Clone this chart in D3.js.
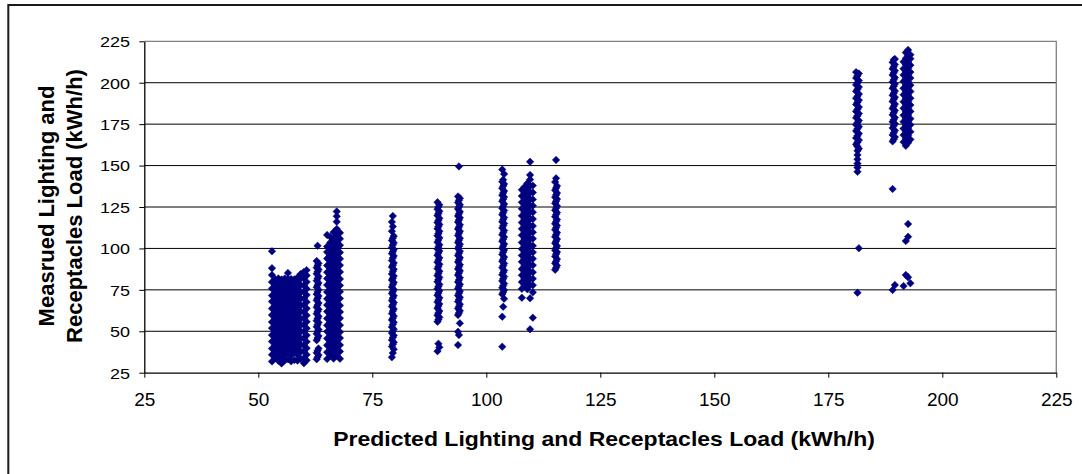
<!DOCTYPE html>
<html>
<head>
<meta charset="utf-8">
<script src="https://cdn.jsdelivr.net/npm/d3@7"></script>
<style>
  html, body { margin: 0; padding: 0; background: #fff; overflow: hidden; }
  svg { display: block; }
</style>
</head>
<body>
<svg id="chart" width="1082" height="474"></svg>
<script>
// Axis ticks and titles
const xTicks = [25, 50, 75, 100, 125, 150, 175, 200, 225];
const yTicks = [25, 50, 75, 100, 125, 150, 175, 200, 225];
const xTitle = "Predicted Lighting and Receptacles Load (kWh/h)";
const yTitleLines = ["Measrued Lighting and", "Receptacles Load (kWh/h)"];

// Hourly readings grouped by predicted load: [predicted, [measured, ...]]
const group53to61 = [
  [53.0, [31.8, 35.9, 39.6, 43.8, 47.7, 51.9, 55.6, 59.8, 63.7, 67.9, 71.6, 75.8, 79.7, 83.9, 88.1, 98.3]],
  [53.7, [33.7, 37.8, 41.6, 45.9, 49.7, 53.8, 57.6, 61.9, 65.7, 69.8, 73.6, 77.9, 81.4]],
  [54.4, [32.2, 35.8, 39.9, 43.7, 47.8, 51.6, 55.9, 59.7, 63.8, 67.6, 71.9, 75.7, 79.8, 81.9]],
  [55.1, [30.6, 33.9, 37.7, 41.8, 45.6, 49.9, 53.7, 57.8, 61.6, 65.9, 69.7, 73.8, 77.6, 81.2]],
  [55.8, [32.4, 35.7, 39.8, 43.6, 47.9, 51.7, 55.8, 59.6, 63.9, 67.7, 71.8, 75.6, 79.9, 81.8]],
  [56.5, [33.1, 37.9, 41.7, 45.8, 49.6, 53.9, 57.7, 61.8, 65.6, 69.9, 73.7, 77.8, 81.6, 85.2]],
  [57.2, [31.9, 35.6, 39.7, 43.9, 47.6, 51.8, 55.7, 59.9, 63.6, 67.8, 71.7, 75.9, 79.6, 81.5]],
  [57.9, [32.6, 37.6, 41.9, 45.7, 49.8, 53.6, 57.9, 61.7, 65.8, 69.6, 73.9, 77.7, 81.3]],
  [58.6, [32.3, 35.8, 39.6, 43.8, 47.7, 51.6, 55.9, 59.8, 63.7, 67.9, 71.6, 75.8, 79.7, 82.4]],
  [59.3, [33.4, 37.7, 41.8, 45.6, 49.9, 53.8, 57.6, 61.9, 65.7, 69.8, 73.6, 77.9, 81.8, 84.6]],
  [60.0, [30.7, 33.8, 37.9, 41.6, 45.8, 49.7, 53.9, 57.8, 61.6, 65.9, 69.7, 73.8, 77.6, 81.9, 85.8]],
  [60.6, [32.5, 35.9, 39.8, 43.7, 47.6, 51.8, 55.7, 59.6, 63.8, 67.7, 71.9, 75.6, 79.8, 83.7, 86.9]]
];

const group63 = [
  [62.8, [33.1, 37.0, 44.6, 48.5, 52.7, 56.4, 60.6, 64.5, 68.7, 72.4, 76.6, 80.5, 84.7, 88.4, 92.4]],
  [63.0, [34.4, 38.3, 45.9, 49.8, 54.0, 57.7, 61.9, 65.8, 70.0, 73.7, 77.9, 81.8, 86.0, 89.7, 101.6]],
  [63.2, [35.7, 39.6, 47.2, 51.1, 55.3, 59.0, 63.2, 67.1, 71.3, 75.0, 79.2, 83.1, 87.3, 91.0]]
];

const group65to68 = [
  [65.1, [33.3, 37.4, 41.6, 45.7, 49.8, 53.6, 57.7, 61.9, 65.8, 69.6, 73.7, 77.9, 81.8, 85.6, 89.7, 93.9, 97.8, 101.2, 108.1]],
  [65.8, [35.4, 39.5, 43.7, 47.8, 51.6, 55.7, 59.8, 63.9, 67.7, 71.8, 75.6, 79.7, 83.9, 87.8, 91.6, 95.7, 99.8, 103.6, 106.9]],
  [66.5, [33.5, 37.6, 41.8, 45.6, 49.7, 53.9, 57.8, 61.6, 65.7, 69.9, 73.8, 77.6, 81.7, 85.9, 89.8, 93.6, 97.7, 101.8, 105.6, 109.8]],
  [67.2, [35.3, 39.7, 43.6, 47.9, 51.8, 55.6, 59.7, 63.8, 67.6, 71.9, 75.7, 79.8, 83.6, 87.7, 91.9, 95.8, 99.6, 103.7, 107.9, 111.8, 116.1, 119.4, 122.3]],
  [67.9, [33.4, 37.8, 41.7, 45.9, 49.6, 53.7, 57.9, 61.7, 65.6, 69.8, 73.9, 77.7, 81.6, 85.8, 89.9, 93.7, 97.6, 101.9, 105.8, 109.4]]
];

const group79 = [
  [79.3, [34.3, 40.8, 44.7, 48.9, 52.6, 56.8, 60.7, 64.9, 68.6, 72.8, 76.7, 80.9, 84.6, 88.8, 92.7, 96.9, 100.6, 104.8, 110.4, 116.0]],
  [79.5, [36.9, 42.1, 46.2, 50.0, 54.1, 57.9, 62.2, 66.0, 70.1, 73.9, 78.2, 82.0, 86.1, 89.9, 94.2, 98.0, 102.1, 106.2, 113.2, 119.6]],
  [79.7, [39.2, 43.4, 47.5, 51.3, 55.4, 59.2, 63.5, 67.3, 71.4, 75.2, 79.5, 83.3, 87.4, 91.2, 95.5, 99.3, 103.4, 107.5]]
];

const group89 = [
  [89.3, [38.0, 55.8, 59.7, 63.9, 67.6, 71.8, 75.7, 79.9, 83.6, 87.8, 91.7, 95.9, 99.6, 103.8, 107.7, 111.9, 115.6, 119.8, 123.7, 127.9]],
  [89.5, [42.5, 57.1, 61.0, 65.2, 68.9, 73.1, 77.0, 81.2, 84.9, 89.1, 93.0, 97.2, 100.9, 105.1, 109.0, 113.2, 116.9, 121.1, 125.0]],
  [89.7, [40.4, 58.4, 62.3, 66.5, 70.2, 74.4, 78.3, 82.5, 86.2, 90.4, 94.3, 98.5, 102.2, 106.4, 110.3, 114.5, 118.2, 122.4, 126.3]]
];

const group94 = [
  [93.8, [41.7, 49.7, 59.8, 63.7, 67.9, 71.6, 75.8, 79.7, 83.9, 87.6, 91.8, 95.7, 99.9, 103.6, 107.8, 111.7, 115.9, 119.6, 123.8, 127.7, 131.4]],
  [94.0, [47.7, 61.1, 65.0, 69.2, 72.9, 77.1, 81.0, 85.2, 88.9, 93.1, 97.0, 101.2, 104.9, 109.1, 113.0, 117.2, 120.9, 125.1, 129.0, 149.5]],
  [94.2, [54.8, 62.4, 66.3, 70.5, 74.2, 78.4, 82.3, 86.5, 90.2, 94.4, 98.3, 102.5, 106.2, 110.4, 114.3, 118.5, 122.2, 126.4, 130.3]]
];

const group104 = [
  [103.5, [40.7, 58.8, 72.3, 76.2, 80.4, 84.1, 88.3, 92.2, 96.4, 100.1, 104.3, 108.2, 112.4, 116.1, 120.3, 124.2, 128.4, 132.1, 136.3, 140.2, 147.6]],
  [103.7, [64.8, 73.6, 77.5, 81.7, 85.4, 89.6, 93.5, 97.7, 101.4, 105.6, 109.5, 113.7, 117.4, 121.6, 125.5, 129.7, 133.4, 137.6, 141.5]],
  [103.9, [69.6, 74.9, 78.8, 83.0, 86.7, 90.9, 94.8, 99.0, 102.7, 106.9, 110.8, 115.0, 118.7, 122.9, 126.8, 131.0, 134.7, 138.9, 144.9]]
];

const group108to110 = [
  [107.8, [70.2, 75.6, 79.7, 83.8, 87.6, 91.9, 95.8, 99.7, 103.6, 107.9, 111.8, 115.6, 119.7, 123.9, 127.8, 131.6, 135.4]],
  [108.4, [77.6, 81.8, 85.7, 89.6, 93.9, 97.8, 101.6, 105.7, 109.9, 113.8, 117.6, 121.7, 125.9, 129.8, 133.6, 137.2]],
  [109.0, [75.4, 79.8, 83.6, 87.9, 91.7, 95.6, 99.8, 103.9, 107.7, 111.6, 115.8, 119.9, 123.7, 127.6, 131.8, 135.7, 139.3]],
  [109.6, [51.2, 69.9, 77.7, 81.6, 85.9, 89.8, 93.7, 97.6, 101.9, 105.8, 109.6, 113.7, 117.9, 121.8, 125.6, 129.7, 133.9, 137.8, 141.6, 144.3, 152.3]],
  [110.2, [58.2, 73.5, 77.8, 81.7, 85.6, 89.9, 93.8, 97.7, 101.6, 105.9, 109.8, 113.6, 117.7, 121.9, 125.8, 129.6, 133.7, 137.9]]
];

const group115 = [
  [115.1, [87.1, 91.0, 95.2, 98.9, 103.1, 107.0, 111.2, 114.9, 119.1, 123.0, 127.2, 130.9, 135.1, 140.1]],
  [115.3, [88.4, 92.3, 96.5, 100.2, 104.4, 108.3, 112.5, 116.2, 120.4, 124.3, 128.5, 132.2, 136.4, 142.3, 153.4]],
  [115.5, [89.7, 93.6, 97.8, 101.5, 105.7, 109.6, 113.8, 117.5, 121.7, 125.6, 129.8, 133.5, 137.7]]
];

const group181 = [
  [181.1, [162.8, 166.7, 170.9, 174.6, 178.8, 182.7, 186.9, 190.6, 194.8, 198.7, 202.9, 206.4]],
  [181.4, [73.3, 146.3, 148.9, 151.2, 153.8, 156.4, 158.9, 161.5, 164.1, 168.0, 172.2, 175.9, 180.1, 184.0, 188.2, 191.9, 196.1, 200.0, 204.2]],
  [181.7, [100.1, 160.2, 165.4, 169.3, 173.5, 177.2, 181.4, 185.3, 189.5, 193.2, 197.4, 201.3, 205.5]]
];

const group189 = [
  [189.1, [74.9, 135.9, 164.6, 168.5, 172.7, 176.4, 180.6, 184.5, 188.7, 192.4, 196.6, 200.5, 204.7, 208.4, 212.3]],
  [189.35, [165.9, 169.8, 174.0, 177.7, 181.9, 185.8, 190.0, 193.7, 197.9, 201.8, 206.0, 209.7, 213.9]],
  [189.6, [77.9, 167.2, 171.1, 175.3, 179.0, 183.2, 187.1, 191.3, 195.0, 199.2, 203.1, 207.3, 211.0, 214.3]]
];

const group192 = [
  [191.5, [77.3, 164.2, 168.4, 172.3, 176.5, 180.4, 184.6, 188.5, 192.7, 196.6, 200.8, 204.7, 208.5, 212.6]],
  [192.0, [84.0, 104.5, 161.9, 166.3, 170.5, 174.4, 178.6, 182.5, 186.7, 190.6, 194.8, 198.7, 202.5, 206.6, 210.8, 214.7, 218.2]],
  [192.5, [82.6, 107.1, 114.7, 163.7, 168.2, 172.6, 176.7, 180.5, 184.4, 188.8, 192.5, 196.9, 200.6, 204.9, 208.7, 212.4, 216.5, 219.8]],
  [193.0, [79.0, 165.8, 170.4, 174.6, 178.3, 182.7, 186.5, 190.6, 194.7, 198.5, 202.8, 206.4, 210.6, 214.5, 216.9]]
];

const groups = [group53to61, group63, group65to68, group79, group89, group94,
                group104, group108to110, group115, group181, group189, group192];

const points = groups.flat().flatMap(([predicted, measured]) =>
  measured.map(m => ({ predicted, measured: m })));

// ---- layout ----
const svg = d3.select("#chart");
const FONT = "'Liberation Sans', Arial, Helvetica, sans-serif";
const plot = { left: 144.3, right: 1056.3, top: 41.3, bottom: 372.7 };

const x = d3.scaleLinear().domain([25, 225]).range([plot.left, plot.right]);
const y = d3.scaleLinear().domain([25, 225]).range([plot.bottom, plot.top]);

svg.append("rect").attr("width", 1082).attr("height", 474).attr("fill", "#fff");

// outer chart frame
svg.append("rect")
  .attr("x", 8.3).attr("y", 5)
  .attr("width", 1200).attr("height", 1000)
  .attr("fill", "none").attr("stroke", "#1a1a1a").attr("stroke-width", 2);

// horizontal gridlines
svg.append("g")
  .selectAll("line")
  .data(yTicks.filter(t => t !== 25 && t !== 225))
  .join("line")
  .attr("x1", plot.left).attr("x2", plot.right)
  .attr("y1", d => y(d)).attr("y2", d => y(d))
  .attr("stroke", "#000").attr("stroke-width", 1);

// plot-area border (top and right)
svg.append("path")
  .attr("d", `M${plot.left},${y(225)}H${x(225)}V${plot.bottom}`)
  .attr("fill", "none").attr("stroke", "#808080").attr("stroke-width", 1.3);

// markers: navy diamonds
const diamond = d3.symbol().type(d3.symbolSquare).size(28);
svg.append("g")
  .selectAll("path")
  .data(points)
  .join("path")
  .attr("d", diamond)
  .attr("transform", d => `translate(${x(d.predicted)},${y(d.measured)}) rotate(45)`)
  .attr("fill", "#000080")
  .attr("stroke", "#000080")
  .attr("stroke-width", 0.5);

// y axis
const yAxis = svg.append("g")
  .attr("transform", `translate(${plot.left},0)`)
  .call(d3.axisLeft(y).tickValues(yTicks).tickSize(5).tickSizeOuter(0));
yAxis.select(".domain").attr("stroke", "#000").attr("stroke-width", 1.3);
yAxis.selectAll(".tick line").attr("stroke", "#000");
yAxis.selectAll(".tick text")
  .attr("x", 0).attr("dy", "0.36em")
  .attr("transform", "translate(-14.3,0) scale(1.2,1)")
  .attr("font-family", FONT).attr("font-size", 15).attr("fill", "#000");

// x axis
const xAxis = svg.append("g")
  .attr("transform", `translate(0,${plot.bottom})`)
  .call(d3.axisBottom(x).tickValues(xTicks).tickSize(5).tickSizeOuter(0));
xAxis.select(".domain").attr("stroke", "#000").attr("stroke-width", 1.3);
xAxis.selectAll(".tick line").attr("stroke", "#000");
xAxis.selectAll(".tick text")
  .attr("y", 33).attr("dy", 0)
  .attr("font-family", FONT).attr("font-size", 19).attr("fill", "#000");

// axis titles
svg.append("text")
  .attr("transform", "translate(604,446) scale(1.15,1)")
  .attr("text-anchor", "middle")
  .attr("font-family", FONT).attr("font-weight", "bold").attr("font-size", 20)
  .text(xTitle);

svg.append("g")
  .selectAll("text")
  .data(yTitleLines)
  .join("text")
  .attr("transform", (d, i) => `translate(${i === 0 ? 54 : 82},206) rotate(-90)`)
  .attr("text-anchor", "middle")
  .attr("font-family", FONT).attr("font-weight", "bold").attr("font-size", 22)
  .text(d => d);
</script>
</body>
</html>
